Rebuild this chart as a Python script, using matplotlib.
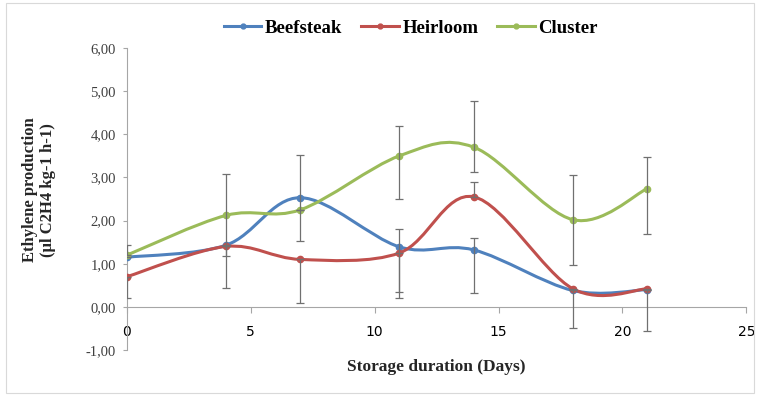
import numpy as np
import matplotlib
matplotlib.use("Agg")
import matplotlib.pyplot as plt
from matplotlib.path import Path
from matplotlib.patches import PathPatch, Rectangle
from matplotlib.lines import Line2D

days = [0, 4, 7, 11, 14, 18, 21]
beefsteak = [1.15, 1.43, 2.53, 1.39, 1.32, 0.38, 0.40]
heirloom = [0.70, 1.40, 1.10, 1.25, 2.55, 0.42, 0.42]
cluster = [1.20, 2.12, 2.25, 3.50, 3.70, 2.02, 2.74]

# error bars (lower, upper)
beef_err_lo = [0.0, 1.00, 1.00, 1.19, 1.00, 0.0, 0.0]
beef_err_hi = [0.0, 0.0, 1.00, 0.42, 0.28, 0.0, 0.0]
heir_err_lo = [0.50, 0.0, 1.00, 0.90, 0.0, 0.92, 0.98]
heir_err_hi = [0.0, 0.0, 0.0, 0.0, 0.35, 0.0, 0.0]
clus_err_lo = [0.0, 0.95, 0.0, 1.00, 0.57, 1.04, 1.05]
clus_err_hi = [0.24, 0.95, 0.0, 0.68, 1.06, 1.04, 0.74]

series_names = ["Beefsteak", "Heirloom", "Cluster"]
colors = ["#4F81BD", "#C0504D", "#9BBB59"]
x_ticks = [0, 5, 10, 15, 20, 25]
y_ticks = [-1, 0, 1, 2, 3, 4, 5, 6]

serif = ["Liberation Serif", "DejaVu Serif"]

fig = plt.figure(figsize=(7.6, 3.96), dpi=100)
fig.patches.append(Rectangle((0.008, 0.008), 0.984, 0.984, transform=fig.transFigure,
                             fill=False, edgecolor="#d9d9d9", linewidth=0.8))
ax = fig.add_axes([0.167, 0.116, 0.815, 0.763])


def smooth_path(x, y):
    pts = np.column_stack([x, y]).astype(float)
    n = len(pts)
    verts = [pts[0]]
    codes = [Path.MOVETO]
    for i in range(n - 1):
        p0 = pts[i - 1] if i > 0 else pts[i]
        p1 = pts[i]
        p2 = pts[i + 1]
        p3 = pts[i + 2] if i + 2 < n else pts[i + 1]
        c1 = p1 + (p2 - p0) / 6.0
        c2 = p2 - (p3 - p1) / 6.0
        verts += [c1, c2, p2]
        codes += [Path.CURVE4] * 3
    return Path(verts, codes)


data = [beefsteak, heirloom, cluster]
errs = [(beef_err_lo, beef_err_hi), (heir_err_lo, heir_err_hi), (clus_err_lo, clus_err_hi)]
handles = []
for vals, col, name, (lo, hi) in zip(data, colors, series_names, errs):
    patch = PathPatch(smooth_path(days, vals), facecolor="none", edgecolor=col,
                      linewidth=2.2, zorder=2, capstyle="round", joinstyle="round")
    ax.add_patch(patch)
    ax.plot(days, vals, linestyle="none", marker="o", markersize=4.5,
            color=col, zorder=3)
    ax.errorbar(days, vals, yerr=[lo, hi], fmt="none", ecolor="#707070",
                elinewidth=0.9, capsize=3, capthick=0.9, zorder=4)
    handles.append(Line2D([], [], color=col, linewidth=2.2, marker="o", markersize=3.5))

ax.set_xlim(0, 25)
ax.set_ylim(-1, 6)
ax.set_xticks(x_ticks)
ax.set_yticks(y_ticks)
ax.set_yticklabels([f"{v:.2f}".replace(".", ",") for v in y_ticks])
for lab in ax.get_xticklabels() + ax.get_yticklabels():
    lab.set_family(serif)
    lab.set_fontsize(10.5)
    lab.set_color("#404040")

for s in ["top", "right"]:
    ax.spines[s].set_visible(False)
ax.spines["bottom"].set_position(("data", 0))
ax.spines["bottom"].set_color("#a6a6a6")
ax.spines["left"].set_color("#a6a6a6")
ax.tick_params(axis="x", direction="out", length=4, color="#a6a6a6", pad=9)
ax.tick_params(axis="y", direction="out", length=3, color="#a6a6a6", pad=5)

ax.set_xlabel("Storage duration (Days)", family=serif, fontsize=12.5, fontweight="bold",
              color="#262626")
ax.xaxis.set_label_coords(0.5, -0.028)
ax.set_ylabel("Ethylene production\n(µl C2H4 kg-1 h-1)", family=serif, fontsize=12,
              fontweight="bold", color="#262626", linespacing=1.1)
ax.yaxis.set_label_coords(-0.115, 0.53)

fig.legend(handles, series_names, loc="center", bbox_to_anchor=(411 / 760, 1 - 28 / 396),
           ncol=3, frameon=False, handlelength=2.0, handletextpad=0.2, columnspacing=1.0,
           prop={"family": serif, "weight": "bold", "size": 13.5})

fig.savefig("out.png", dpi=100)
